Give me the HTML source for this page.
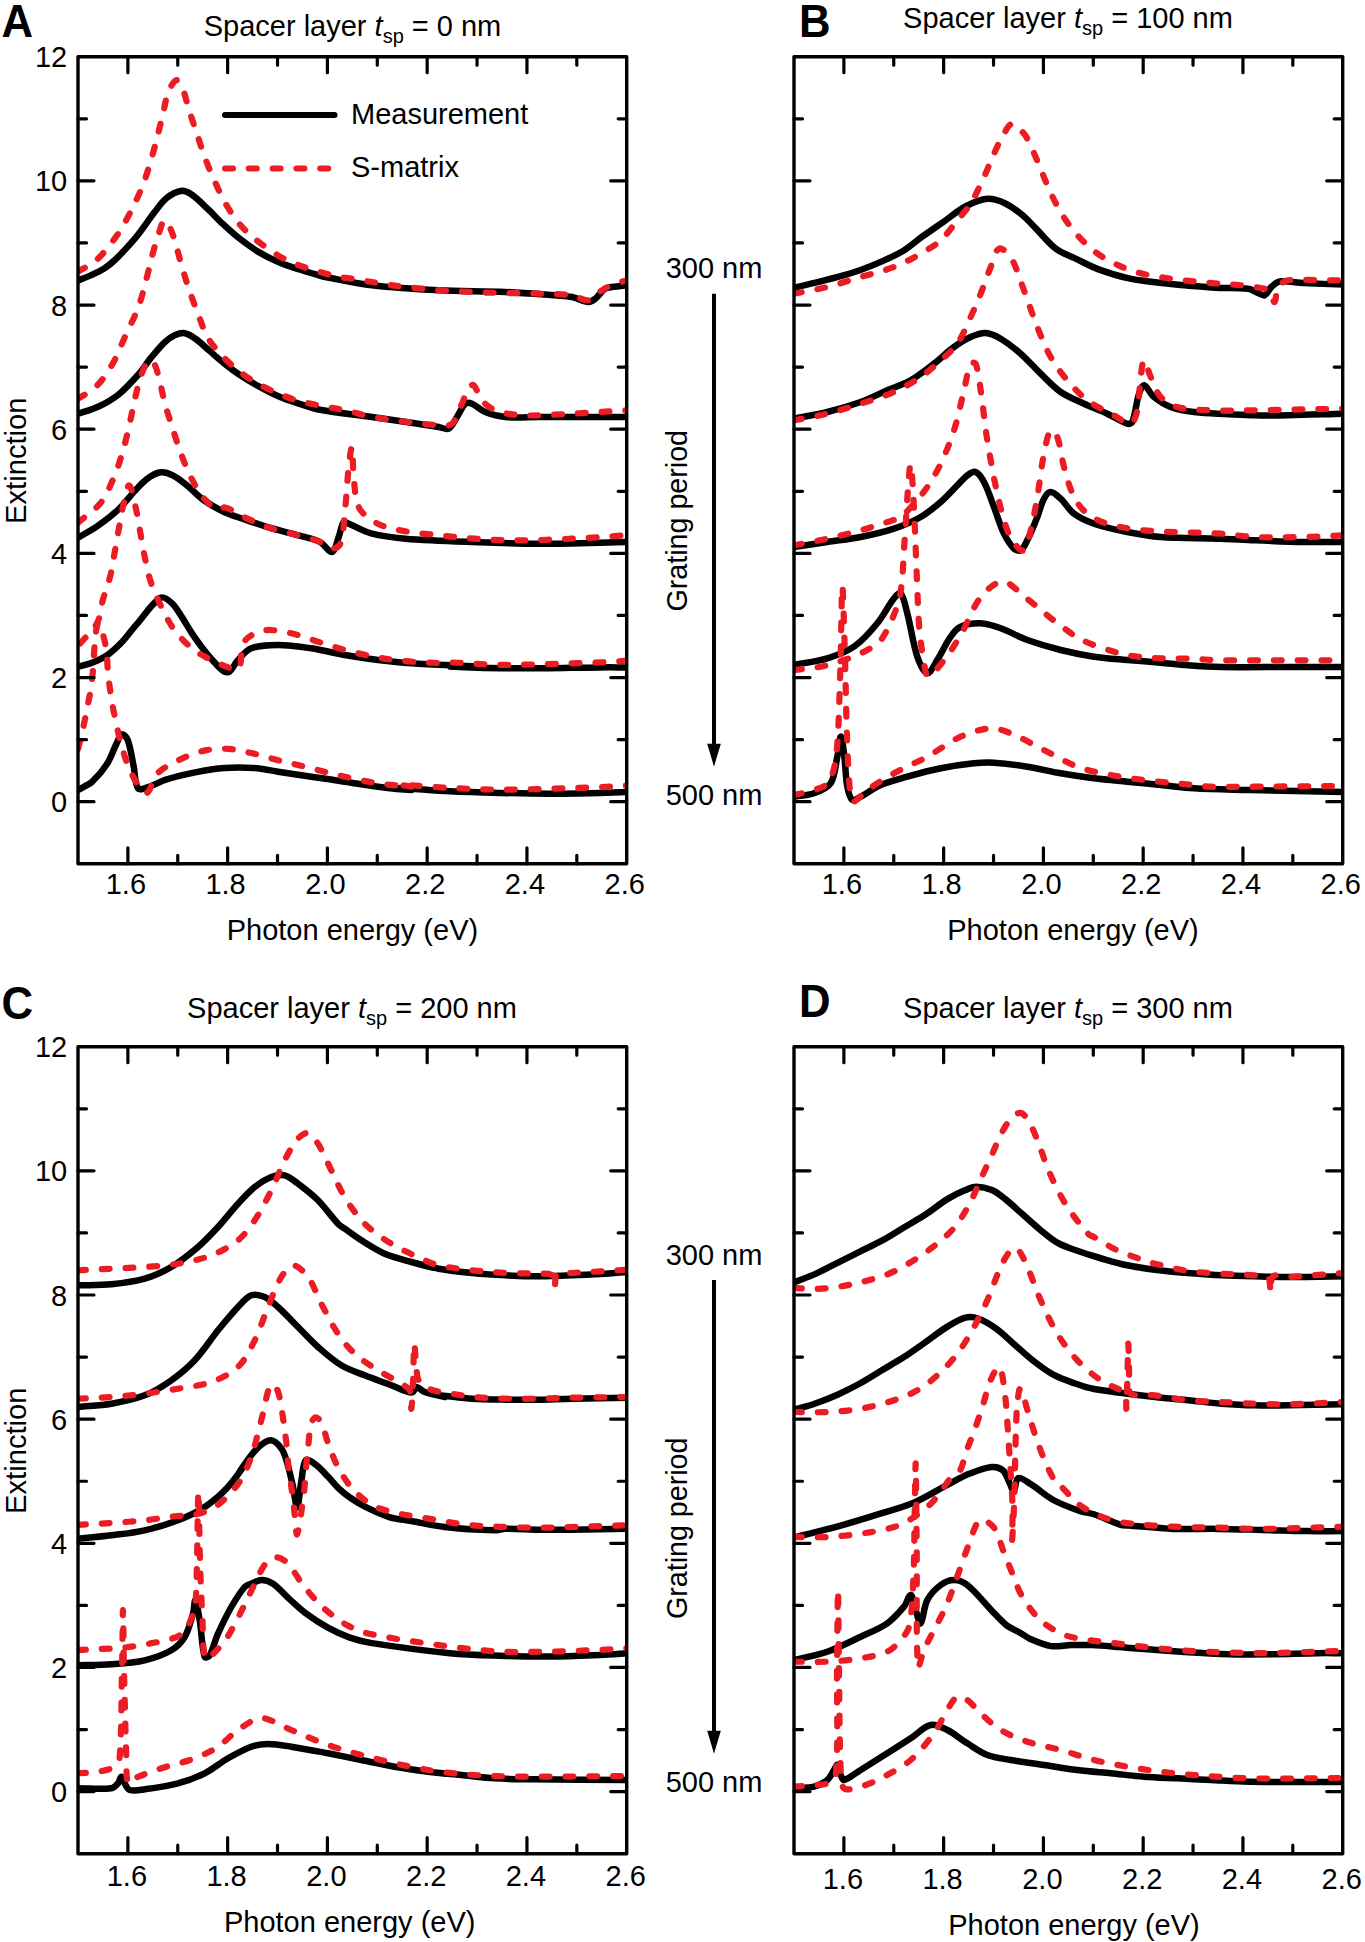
<!DOCTYPE html>
<html><head><meta charset="utf-8"><style>
html,body{margin:0;padding:0;background:#fff;}
svg{display:block;font-family:"Liberation Sans", sans-serif;}
</style></head><body>
<svg width="1365" height="1942" viewBox="0 0 1365 1942">
<rect width="1365" height="1942" fill="#fff"/>
<clipPath id="clipA"><rect x="78.0" y="56.7" width="548.7" height="807.0999999999999"/></clipPath>
<g clip-path="url(#clipA)">
<path d="M78.0,280.6 C82.0,278.9 86.1,277.4 90.1,275.6 C94.9,273.4 99.8,271.3 104.2,268.5 C107.8,266.3 111.1,263.4 114.3,260.5 C117.8,257.3 121.1,253.9 124.3,250.4 C129.2,245.2 134.0,239.9 138.4,234.3 C144.1,227.1 149.0,219.3 154.6,212.1 C158.4,207.2 161.9,201.8 166.6,198.0 C170.7,194.8 175.9,191.8 180.7,191.0 C184.0,190.4 187.9,192.1 190.8,194.0 C196.7,197.8 201.7,203.2 206.9,208.1 C212.5,213.3 217.5,219.0 223.1,224.2 C228.3,229.1 233.5,233.9 239.2,238.3 C245.6,243.3 252.3,248.2 259.3,252.4 C265.7,256.3 272.6,259.6 279.5,262.5 C286.0,265.3 292.8,267.3 299.6,269.5 C306.3,271.7 313.0,273.6 319.8,275.6 C321.6,276.1 323.4,276.6 325.3,277.0 C340.9,279.9 356.3,283.5 372.0,285.3 C394.1,287.9 416.4,289.2 438.7,290.3 C460.9,291.4 483.1,291.0 505.3,292.0 C522.0,292.7 538.7,294.1 555.3,295.3 C560.9,295.8 566.6,295.9 572.0,297.0 C577.7,298.1 583.2,301.6 588.7,302.0 C591.0,302.2 593.4,300.2 595.3,298.7 C599.0,295.8 601.4,290.8 605.3,288.7 C609.1,286.7 614.2,287.0 618.7,286.3 C621.4,285.9 624.2,285.7 627.0,285.3" fill="none" stroke="#000" stroke-width="6.5" stroke-linejoin="round" stroke-linecap="round"/>
<path d="M78.0,413.8 C84.7,411.5 91.8,409.8 98.1,406.8 C105.2,403.4 112.2,399.5 118.3,394.7 C125.7,388.8 132.1,381.6 138.4,374.5 C142.9,369.5 146.3,363.6 150.5,358.4 C155.0,352.9 159.5,347.2 164.6,342.3 C167.6,339.5 171.0,336.9 174.7,335.3 C177.8,333.9 181.6,332.8 184.8,333.2 C188.3,333.8 191.8,336.1 194.8,338.3 C199.9,341.8 204.3,346.3 209.0,350.4 C213.7,354.4 218.2,358.6 223.1,362.5 C228.3,366.6 233.6,370.8 239.2,374.5 C245.7,378.9 252.5,382.9 259.3,386.6 C265.9,390.2 272.6,393.8 279.5,396.7 C286.0,399.5 292.8,401.6 299.6,403.8 C306.3,405.9 312.9,408.5 319.8,409.8 C337.0,413.0 354.6,414.5 372.0,417.0 C394.2,420.2 416.5,423.6 438.7,427.0 C442.0,427.5 446.1,430.0 448.7,428.7 C452.2,426.7 454.4,421.0 457.0,417.0 C459.9,412.6 461.8,406.8 465.3,403.7 C466.8,402.3 470.0,402.8 472.0,403.7 C476.7,405.6 480.5,410.1 485.3,412.0 C491.6,414.5 498.5,416.4 505.3,417.0 C516.3,418.0 527.6,417.0 538.7,417.0 C568.1,417.0 597.6,417.0 627.0,417.0" fill="none" stroke="#000" stroke-width="6.5" stroke-linejoin="round" stroke-linecap="round"/>
<path d="M78.0,537.7 C84.7,533.7 91.7,530.1 98.1,525.6 C105.2,520.7 112.1,515.4 118.3,509.5 C124.2,504.0 128.9,497.3 134.4,491.4 C138.3,487.2 142.0,482.6 146.5,479.3 C150.7,476.2 155.7,473.0 160.6,472.3 C164.5,471.7 169.0,473.4 172.7,475.3 C177.8,477.8 182.3,481.7 186.8,485.3 C192.4,489.8 197.1,495.3 202.9,499.5 C209.2,504.0 216.0,508.2 223.1,511.5 C230.1,514.9 237.8,517.0 245.2,519.6 C253.2,522.4 261.3,525.2 269.4,527.7 C279.4,530.6 289.6,532.9 299.6,535.7 C306.4,537.6 313.6,538.7 319.8,541.8 C324.4,544.1 328.9,552.8 332.0,552.0 C335.2,551.2 336.7,542.1 338.7,537.0 C340.6,532.1 341.2,525.3 343.7,522.0 C344.5,520.9 347.0,523.0 348.7,523.7 C356.5,526.9 363.9,531.5 372.0,533.7 C382.8,536.5 394.1,537.7 405.3,538.7 C427.5,540.5 449.8,541.2 472.0,542.0 C494.2,542.8 516.4,543.7 538.7,543.7 C568.1,543.7 597.6,542.6 627.0,542.0" fill="none" stroke="#000" stroke-width="6.5" stroke-linejoin="round" stroke-linecap="round"/>
<path d="M78.0,666.9 C82.9,665.4 87.9,664.4 92.7,662.5 C97.7,660.5 102.9,658.3 107.3,655.2 C112.6,651.4 117.4,646.7 122.0,642.0 C127.2,636.5 131.6,630.1 136.6,624.4 C144.4,615.5 151.8,603.2 160.5,597.9 C163.5,596.1 168.8,600.4 171.8,603.1 C176.0,606.9 178.8,612.5 182.1,617.4 C185.6,622.8 188.7,628.5 192.3,633.8 C195.6,638.7 199.0,643.5 202.6,648.2 C205.8,652.4 209.2,656.6 212.8,660.5 C216.1,664.1 219.3,668.1 223.1,670.8 C224.7,671.9 227.7,672.9 229.2,671.8 C232.7,669.3 234.7,663.5 238.0,660.0 C242.0,655.7 246.0,650.3 251.3,648.3 C259.4,645.3 269.1,645.0 278.0,645.0 C289.1,645.0 300.3,646.7 311.3,648.3 C322.5,650.0 333.5,653.0 344.7,655.0 C355.7,656.9 366.9,658.6 378.0,660.0 C389.1,661.4 400.2,662.6 411.3,663.3 C433.5,664.8 469.0,665.9 478.0,666.7 C481.8,667.0 447.3,666.3 449.9,666.5 C454.5,666.8 483.1,667.9 499.8,668.2 C516.4,668.5 533.0,668.3 549.7,668.2 C566.3,668.0 582.9,667.5 599.6,667.4 C608.7,667.3 617.9,667.4 627.0,667.4" fill="none" stroke="#000" stroke-width="6.5" stroke-linejoin="round" stroke-linecap="round"/>
<path d="M78.0,790.0 C82.9,787.0 88.5,784.9 92.7,781.2 C98.2,776.1 103.2,770.0 107.3,763.6 C111.0,757.8 113.0,750.8 116.1,744.5 C117.9,741.0 119.7,735.1 122.0,734.3 C123.6,733.7 126.9,737.6 127.8,740.1 C130.8,748.4 131.8,757.7 133.7,766.5 C135.2,773.8 134.7,783.8 138.1,788.5 C139.6,790.7 145.1,788.1 148.3,787.0 C154.3,785.1 159.9,781.6 165.9,779.7 C175.5,776.7 185.4,774.4 195.2,772.4 C204.9,770.4 214.7,768.7 224.5,768.0 C234.2,767.3 244.1,767.3 253.8,768.0 C261.9,768.5 269.9,770.4 278.0,771.7 C289.1,773.3 300.2,775.0 311.3,776.7 C322.4,778.3 333.6,780.0 344.7,781.7 C355.8,783.3 366.9,785.3 378.0,786.7 C389.1,788.1 405.9,789.7 411.3,790.0 C413.2,790.1 397.6,787.8 400.0,787.9 C410.4,788.3 433.2,790.4 449.9,791.3 C466.5,792.1 483.1,792.5 499.8,792.9 C516.4,793.3 533.0,793.7 549.7,793.7 C566.3,793.7 582.9,793.3 599.6,792.9 C608.7,792.7 617.9,792.4 627.0,792.1" fill="none" stroke="#000" stroke-width="6.5" stroke-linejoin="round" stroke-linecap="round"/>
<path d="M78.0,271.6 C84.0,267.9 91.0,265.2 96.1,260.5 C103.7,253.5 110.2,244.8 116.3,236.3 C121.7,228.7 126.1,220.4 130.4,212.1 C134.8,203.6 138.9,194.9 142.5,185.9 C145.6,178.1 148.1,169.9 150.5,161.8 C152.8,154.4 154.6,147.0 156.6,139.6 C158.7,131.6 160.6,123.5 162.6,115.4 C164.6,107.4 165.6,98.8 168.7,91.2 C170.3,87.1 174.1,80.5 176.7,80.2 C178.8,79.9 181.4,85.9 182.8,89.2 C185.4,95.6 186.7,102.7 188.8,109.4 C191.4,117.5 194.2,125.5 196.9,133.6 C199.6,141.6 201.9,149.8 204.9,157.7 C208.0,165.9 211.4,174.0 215.0,181.9 C218.7,190.1 222.4,198.4 227.1,206.1 C231.8,213.9 236.9,221.7 243.2,228.2 C250.4,235.8 258.9,242.3 267.4,248.4 C274.3,253.4 281.8,257.8 289.5,261.5 C296.6,264.9 304.2,267.2 311.7,269.5 C320.3,272.2 329.1,274.6 337.9,276.6 C342.5,277.6 347.3,277.9 352.0,278.7 C369.8,281.4 387.5,285.0 405.3,287.0 C427.5,289.5 449.8,290.9 472.0,292.0 C494.2,293.1 516.5,292.9 538.7,293.7 C549.8,294.0 561.0,293.9 572.0,295.3 C577.7,296.1 583.6,301.2 588.7,300.3 C593.6,299.5 597.3,293.3 602.0,290.3 C606.2,287.7 610.7,285.5 615.3,283.7 C619.1,282.2 623.1,281.4 627.0,280.3" fill="none" stroke="#EC1C24" stroke-width="6.2" stroke-dasharray="7.8 16" stroke-linecap="round"/>
<path d="M78.0,398.7 C84.0,394.7 91.1,391.7 96.1,386.6 C102.5,380.3 107.7,372.3 112.2,364.5 C117.1,356.2 120.4,347.0 124.3,338.3 C129.1,327.8 134.4,317.6 138.4,306.8 C141.8,297.7 144.0,288.1 146.5,278.6 C148.7,270.6 150.4,262.4 152.5,254.4 C154.4,247.7 156.3,240.9 158.6,234.3 C160.3,229.5 162.3,220.2 164.6,220.2 C167.0,220.2 170.8,229.3 172.7,234.3 C176.1,243.4 178.0,253.1 180.7,262.5 C183.3,271.3 185.9,280.0 188.8,288.7 C191.9,297.9 195.4,307.0 198.9,316.1 C201.5,322.9 203.5,330.0 206.9,336.3 C210.2,342.1 214.7,347.3 219.0,352.4 C222.7,356.7 226.8,360.7 231.1,364.5 C236.9,369.5 242.9,374.3 249.2,378.6 C255.0,382.4 261.1,385.7 267.4,388.6 C275.2,392.4 283.3,396.0 291.6,398.7 C299.4,401.3 307.6,403.0 315.7,404.8 C326.4,407.1 337.3,408.5 348.0,410.8 C356.0,412.6 363.8,415.7 372.0,417.0 C394.1,420.5 416.4,423.5 438.7,425.3 C443.1,425.7 449.1,426.4 452.0,423.7 C456.9,419.2 458.9,410.4 462.0,403.7 C464.5,398.2 465.7,391.7 468.7,387.0 C469.5,385.6 472.6,384.3 473.7,385.3 C477.1,388.7 478.3,396.1 482.0,400.3 C485.6,404.4 490.3,408.4 495.3,410.3 C503.6,413.4 513.0,414.9 522.0,415.3 C538.6,416.1 555.3,414.5 572.0,413.7 C590.3,412.8 608.7,411.4 627.0,410.3" fill="none" stroke="#EC1C24" stroke-width="6.2" stroke-dasharray="7.8 16" stroke-linecap="round"/>
<path d="M78.0,522.6 C85.4,516.2 94.0,510.9 100.2,503.5 C105.4,497.1 108.9,489.0 112.2,481.3 C116.3,472.2 119.4,462.7 122.3,453.1 C125.1,443.9 127.2,434.3 129.4,424.9 C131.5,415.5 133.2,406.0 135.4,396.7 C137.2,389.3 138.9,381.7 141.5,374.5 C143.2,369.6 145.5,363.4 148.5,360.4 C149.5,359.4 152.6,361.0 153.5,362.5 C156.0,366.3 157.3,371.6 158.6,376.3 C161.0,384.9 162.3,393.9 164.6,402.5 C167.0,411.3 169.9,420.0 172.7,428.7 C175.3,436.8 177.8,444.9 180.7,452.9 C183.8,461.0 186.9,469.3 190.8,477.1 C194.3,484.0 198.0,491.2 202.9,497.2 C206.8,501.9 211.9,506.9 217.0,509.3 C219.3,510.3 222.5,506.8 225.1,507.5 C232.0,509.5 238.4,514.5 245.2,517.6 C253.2,521.2 261.1,524.9 269.4,527.7 C279.3,530.9 289.6,532.9 299.6,535.7 C306.4,537.6 313.3,539.2 319.8,541.8 C324.1,543.5 327.9,548.3 332.0,548.7 C334.8,548.9 339.4,546.6 340.3,543.7 C343.9,532.7 344.0,519.3 345.3,507.0 C346.8,493.7 347.2,480.3 348.7,467.0 C349.4,460.3 351.3,445.7 352.0,447.0 C353.0,449.0 352.6,467.1 353.7,477.0 C354.8,487.1 354.9,498.1 358.7,507.0 C361.0,512.5 366.8,517.0 372.0,520.3 C377.9,524.2 385.0,527.1 392.0,528.7 C407.2,532.1 423.0,533.7 438.7,535.3 C460.8,537.6 483.1,539.8 505.3,540.3 C527.5,540.9 549.8,539.6 572.0,538.7 C590.3,537.9 608.7,536.4 627.0,535.3" fill="none" stroke="#EC1C24" stroke-width="6.2" stroke-dasharray="7.8 16" stroke-linecap="round"/>
<path d="M80.2,643.4 C85.8,636.7 93.1,630.8 97.0,623.2 C100.7,616.2 100.7,607.5 102.9,599.7 C105.1,591.8 108.3,584.2 110.2,576.3 C112.2,568.6 113.2,560.6 114.6,552.8 C116.1,544.5 117.5,536.2 119.0,527.9 C120.4,520.1 121.6,512.2 123.4,504.5 C125.0,498.0 127.4,484.4 129.3,485.4 C131.8,486.8 134.6,502.9 136.6,511.8 C138.5,520.0 139.5,528.4 141.0,536.7 C142.4,544.5 143.7,552.4 145.4,560.1 C147.1,568.0 148.7,576.0 151.3,583.6 C154.0,591.6 157.7,599.4 161.5,607.0 C165.5,615.0 169.3,623.4 174.7,630.5 C180.5,638.0 187.6,645.1 195.2,650.8 C202.7,656.3 211.7,659.9 220.1,664.0 C223.9,665.8 227.8,667.4 231.8,668.4 C234.2,668.9 238.2,670.1 239.2,668.4 C241.6,663.8 240.6,655.5 242.1,649.3 C243.0,645.7 243.8,641.3 246.5,639.0 C251.2,635.0 257.8,631.1 264.1,630.3 C272.8,629.1 282.4,631.4 291.3,633.3 C300.4,635.3 309.1,638.9 318.0,641.7 C329.1,645.1 340.1,649.0 351.3,651.7 C365.6,655.1 380.1,658.2 394.7,660.0 C411.2,662.1 428.0,662.6 444.7,663.3 C446.4,663.4 448.1,662.3 449.9,662.4 C466.5,662.8 483.1,664.6 499.8,664.9 C516.4,665.1 533.0,664.4 549.7,664.0 C566.3,663.6 582.9,663.1 599.6,662.4 C608.7,662.0 617.9,661.3 627.0,660.7" fill="none" stroke="#EC1C24" stroke-width="6.2" stroke-dasharray="7.8 16" stroke-linecap="round"/>
<path d="M78.0,748.9 C79.5,743.1 81.1,737.2 82.4,731.4 C84.2,723.1 85.9,714.8 87.5,706.4 C89.1,698.2 91.0,689.9 91.9,681.5 C93.7,666.0 93.8,650.2 95.6,634.7 C96.0,630.7 97.4,621.6 98.5,622.9 C100.8,625.5 104.3,638.4 105.8,646.4 C107.5,655.0 107.1,664.0 108.0,672.7 C108.8,680.6 109.8,688.4 111.0,696.2 C112.2,704.0 113.7,711.9 115.4,719.6 C116.9,727.0 118.5,734.4 120.5,741.6 C122.7,749.5 124.8,757.5 127.8,765.1 C130.2,771.1 133.0,777.3 136.6,782.6 C139.3,786.6 144.1,794.1 146.9,792.9 C151.0,791.1 152.2,778.8 157.1,773.8 C163.4,767.5 172.3,763.2 180.6,759.2 C188.4,755.4 196.9,752.2 205.5,750.4 C213.1,748.8 221.2,748.5 228.9,748.9 C236.8,749.4 244.6,751.6 252.4,753.3 C259.7,755.0 267.0,757.3 274.3,759.2 C286.6,762.3 299.0,765.3 311.3,768.3 C322.4,771.1 333.5,774.2 344.7,776.7 C355.7,779.2 366.8,781.7 378.0,783.3 C389.0,785.0 405.9,786.4 411.3,786.7 C413.2,786.8 397.6,784.5 400.0,784.6 C410.4,784.9 433.2,787.1 449.9,787.9 C466.5,788.8 483.1,789.5 499.8,789.6 C516.4,789.7 533.0,789.2 549.7,788.8 C566.3,788.3 582.9,787.8 599.6,787.1 C608.7,786.7 617.9,786.0 627.0,785.4" fill="none" stroke="#EC1C24" stroke-width="6.2" stroke-dasharray="7.8 16" stroke-linecap="round"/>
</g>
<rect x="78.0" y="56.7" width="548.7" height="807.0999999999999" fill="none" stroke="#000" stroke-width="3.4" stroke-linejoin="round"/>
<path d="M127.88,56.7 v16 M127.88,863.8 v-16 M177.76,56.7 v8.5 M177.76,863.8 v-8.5 M227.65,56.7 v16 M227.65,863.8 v-16 M277.53,56.7 v8.5 M277.53,863.8 v-8.5 M327.41,56.7 v16 M327.41,863.8 v-16 M377.29,56.7 v8.5 M377.29,863.8 v-8.5 M427.17,56.7 v16 M427.17,863.8 v-16 M477.05,56.7 v8.5 M477.05,863.8 v-8.5 M526.94,56.7 v16 M526.94,863.8 v-16 M576.82,56.7 v8.5 M576.82,863.8 v-8.5 M78.0,801.72 h16 M626.7,801.72 h-16 M78.0,739.63 h8.5 M626.7,739.63 h-8.5 M78.0,677.55 h16 M626.7,677.55 h-16 M78.0,615.46 h8.5 M626.7,615.46 h-8.5 M78.0,553.38 h16 M626.7,553.38 h-16 M78.0,491.29 h8.5 M626.7,491.29 h-8.5 M78.0,429.21 h16 M626.7,429.21 h-16 M78.0,367.12 h8.5 M626.7,367.12 h-8.5 M78.0,305.04 h16 M626.7,305.04 h-16 M78.0,242.95 h8.5 M626.7,242.95 h-8.5 M78.0,180.87 h16 M626.7,180.87 h-16 M78.0,118.78 h8.5 M626.7,118.78 h-8.5" stroke="#000" stroke-width="3.2" stroke-linecap="round" fill="none"/>
<text x="125.9" y="894.4" text-anchor="middle" font-size="29">1.6</text>
<text x="225.6" y="894.4" text-anchor="middle" font-size="29">1.8</text>
<text x="325.4" y="894.4" text-anchor="middle" font-size="29">2.0</text>
<text x="425.2" y="894.4" text-anchor="middle" font-size="29">2.2</text>
<text x="524.9" y="894.4" text-anchor="middle" font-size="29">2.4</text>
<text x="624.7" y="894.4" text-anchor="middle" font-size="29">2.6</text>
<text x="352.4" y="939.8" text-anchor="middle" font-size="29">Photon energy (eV)</text>
<text x="67.2" y="812.2" text-anchor="end" font-size="29">0</text>
<text x="67.2" y="688.0" text-anchor="end" font-size="29">2</text>
<text x="67.2" y="563.9" text-anchor="end" font-size="29">4</text>
<text x="67.2" y="439.7" text-anchor="end" font-size="29">6</text>
<text x="67.2" y="315.5" text-anchor="end" font-size="29">8</text>
<text x="67.2" y="191.4" text-anchor="end" font-size="29">10</text>
<text x="67.2" y="67.2" text-anchor="end" font-size="29">12</text>
<text transform="translate(26,460.7) rotate(-90)" text-anchor="middle" font-size="29" textLength="126.5" lengthAdjust="spacingAndGlyphs">Extinction</text>
<clipPath id="clipB"><rect x="794.0" y="56.7" width="548.7" height="807.0999999999999"/></clipPath>
<g clip-path="url(#clipB)">
<path d="M794.0,287.8 C808.7,284.1 823.4,280.7 838.0,276.8 C845.4,274.8 852.7,272.7 859.9,270.2 C867.3,267.6 874.7,264.6 881.9,261.4 C889.4,258.0 896.9,254.7 903.9,250.4 C910.1,246.6 915.6,241.5 921.5,237.2 C928.8,232.0 936.2,226.9 943.5,221.8 C950.8,216.7 957.6,210.6 965.4,206.5 C972.2,202.9 980.0,199.4 987.4,198.8 C993.2,198.3 999.6,200.7 1005.0,203.2 C1011.3,206.2 1017.1,210.7 1022.6,215.2 C1027.4,219.1 1031.4,224.0 1035.8,228.4 C1042.6,235.2 1048.5,243.2 1056.1,248.9 C1062.1,253.4 1069.7,255.8 1076.6,259.1 C1083.9,262.6 1091.0,266.6 1098.6,269.4 C1108.1,272.9 1118.0,276.0 1127.9,278.2 C1137.5,280.4 1147.4,281.4 1157.2,282.6 C1166.9,283.8 1176.7,284.6 1186.5,285.5 C1196.3,286.3 1206.0,287.2 1215.8,287.7 C1226.5,288.3 1237.5,287.3 1248.0,288.7 C1251.6,289.1 1254.6,291.7 1258.0,293.0 C1260.2,293.9 1262.9,296.1 1264.7,295.3 C1267.3,294.1 1268.7,289.4 1271.3,287.0 C1273.8,284.8 1276.6,281.9 1279.8,281.5 C1287.4,280.6 1295.7,282.7 1303.6,283.1 C1316.7,283.7 1329.9,284.1 1343.0,284.6" fill="none" stroke="#000" stroke-width="6.5" stroke-linejoin="round" stroke-linecap="round"/>
<path d="M794.0,418.7 C805.1,416.4 816.4,414.7 827.3,412.0 C838.6,409.2 849.8,405.9 860.7,402.0 C869.8,398.7 878.4,394.2 887.3,390.3 C895.1,387.0 903.4,384.5 910.7,380.3 C918.9,375.6 926.4,369.5 934.0,363.7 C940.9,358.4 947.0,352.1 954.0,347.0 C959.2,343.2 964.8,339.6 970.7,337.0 C975.4,334.9 980.7,332.7 985.7,333.0 C990.7,333.3 996.1,336.0 1000.7,338.7 C1007.8,342.9 1014.4,348.2 1020.7,353.7 C1027.7,359.9 1033.9,367.1 1040.7,373.7 C1047.2,379.9 1053.3,386.9 1060.7,392.0 C1067.7,396.9 1076.1,400.0 1084.0,403.7 C1091.7,407.2 1099.7,410.1 1107.3,413.7 C1114.1,416.8 1120.6,421.4 1127.3,423.7 C1128.9,424.2 1131.7,423.5 1132.3,422.0 C1135.6,413.5 1136.1,402.8 1139.0,393.7 C1140.0,390.6 1142.1,384.9 1144.0,385.3 C1147.1,386.0 1150.1,393.8 1154.0,397.0 C1159.0,401.0 1164.7,404.8 1170.7,407.0 C1178.0,409.8 1186.1,411.2 1194.0,412.0 C1214.1,414.0 1234.4,414.6 1254.7,415.3 C1265.8,415.7 1276.9,415.5 1288.0,415.3 C1306.3,415.0 1324.7,414.2 1343.0,413.7" fill="none" stroke="#000" stroke-width="6.5" stroke-linejoin="round" stroke-linecap="round"/>
<path d="M794.0,547.0 C805.1,545.3 816.2,543.7 827.3,542.0 C838.4,540.3 849.7,539.2 860.7,537.0 C871.9,534.8 883.2,532.3 894.0,528.7 C903.2,525.6 912.3,521.8 920.7,517.0 C927.9,512.9 934.4,507.4 940.7,502.0 C946.6,496.9 951.8,490.9 957.3,485.3 C960.7,482.0 963.6,478.1 967.3,475.3 C969.7,473.6 973.4,471.1 975.7,472.0 C979.0,473.3 982.0,478.2 984.0,482.0 C988.1,489.9 990.8,498.6 994.0,507.0 C997.4,515.9 999.9,525.2 1004.0,533.7 C1006.6,539.1 1010.0,544.6 1014.0,548.7 C1015.5,550.2 1019.0,551.3 1020.7,550.3 C1023.5,548.6 1025.5,543.9 1027.3,540.3 C1031.1,532.8 1034.2,524.9 1037.3,517.0 C1039.7,511.0 1041.0,504.3 1044.0,498.7 C1045.4,496.0 1048.2,492.0 1050.7,492.0 C1053.8,492.0 1057.8,496.0 1060.7,498.7 C1065.5,503.2 1068.7,509.7 1074.0,513.7 C1079.9,518.1 1087.0,521.3 1094.0,523.7 C1104.8,527.4 1116.1,529.8 1127.3,532.0 C1138.3,534.2 1149.5,536.2 1160.7,537.0 C1180.8,538.4 1201.1,537.9 1221.3,538.7 C1232.5,539.1 1243.6,539.9 1254.7,540.3 C1271.3,541.0 1288.0,541.7 1304.7,542.0 C1317.4,542.2 1330.2,542.0 1343.0,542.0" fill="none" stroke="#000" stroke-width="6.5" stroke-linejoin="round" stroke-linecap="round"/>
<path d="M794.0,665.0 C805.1,662.8 816.6,661.6 827.3,658.3 C836.6,655.5 846.2,652.1 854.0,646.7 C862.9,640.5 870.4,631.8 877.3,623.3 C883.7,615.7 887.9,606.2 894.0,598.3 C895.7,596.2 899.4,591.9 900.7,593.3 C903.9,596.9 905.5,606.5 907.3,613.3 C911.1,627.7 912.7,642.7 917.3,656.7 C919.4,662.7 923.7,672.7 927.3,673.3 C930.4,673.8 934.4,664.7 937.3,660.0 C942.1,652.5 945.6,643.9 950.7,636.7 C953.3,632.8 956.6,628.5 960.7,626.7 C966.6,624.0 974.1,623.1 980.7,623.3 C987.4,623.6 994.2,626.0 1000.7,628.3 C1009.8,631.6 1018.2,636.7 1027.3,640.0 C1038.2,643.9 1049.4,647.2 1060.7,650.0 C1071.6,652.7 1082.8,655.0 1094.0,656.7 C1105.0,658.3 1116.2,659.0 1127.3,660.0 C1138.4,661.0 1149.6,661.7 1160.7,662.7 C1169.8,663.5 1178.9,664.7 1188.0,665.3 C1199.1,666.1 1210.2,666.8 1221.3,667.0 C1243.5,667.4 1265.8,667.0 1288.0,667.0 C1306.3,667.0 1324.7,667.0 1343.0,667.0" fill="none" stroke="#000" stroke-width="6.5" stroke-linejoin="round" stroke-linecap="round"/>
<path d="M794.0,796.7 C800.7,795.6 807.8,795.6 814.0,793.3 C820.0,791.2 827.4,788.4 830.7,783.3 C835.2,776.2 835.4,765.6 837.3,756.7 C838.7,750.1 839.5,737.3 840.7,736.7 C841.7,736.2 843.3,747.7 844.0,753.3 C845.5,764.4 845.4,775.8 847.3,786.7 C848.2,791.3 849.6,798.0 852.3,800.0 C854.1,801.3 858.0,798.1 860.7,796.7 C867.5,793.1 873.6,788.0 880.7,785.0 C889.2,781.4 898.4,779.2 907.3,776.7 C918.4,773.6 929.4,770.6 940.7,768.3 C951.7,766.1 962.8,764.5 974.0,763.3 C980.6,762.6 987.4,762.3 994.0,762.7 C1005.1,763.4 1016.3,764.9 1027.3,766.7 C1038.5,768.5 1049.5,771.4 1060.7,773.3 C1071.7,775.3 1082.9,776.9 1094.0,778.3 C1105.1,779.7 1116.2,780.6 1127.3,781.7 C1138.4,782.8 1149.6,783.9 1160.7,785.0 C1171.8,786.1 1182.9,787.7 1194.0,788.3 C1212.3,789.4 1230.7,789.5 1249.0,790.0 C1280.3,790.8 1311.7,791.3 1343.0,792.0" fill="none" stroke="#000" stroke-width="6.5" stroke-linejoin="round" stroke-linecap="round"/>
<path d="M794.0,293.7 C805.1,291.4 816.4,289.7 827.3,287.0 C838.6,284.2 849.6,280.3 860.7,277.0 C871.8,273.7 883.2,271.2 894.0,267.0 C903.2,263.4 912.1,258.6 920.7,253.7 C927.6,249.7 934.8,245.7 940.7,240.3 C947.0,234.6 951.8,227.0 957.3,220.3 C961.8,214.8 967.0,209.7 970.7,203.7 C975.8,195.2 979.8,186.0 984.0,177.0 C987.6,169.3 990.5,161.3 994.0,153.7 C997.1,146.9 1000.1,140.0 1004.0,133.7 C1006.2,130.0 1009.3,123.7 1012.3,123.7 C1015.9,123.7 1020.7,129.9 1024.0,133.7 C1026.3,136.2 1027.7,139.6 1029.2,142.7 C1032.4,149.2 1035.2,155.9 1038.0,162.5 C1041.7,171.3 1045.0,180.2 1048.9,188.9 C1052.3,196.3 1055.7,203.8 1059.9,210.8 C1064.5,218.5 1069.4,226.1 1075.3,232.8 C1081.8,240.3 1089.1,247.4 1097.1,253.3 C1104.2,258.6 1112.5,262.7 1120.6,266.4 C1127.6,269.6 1135.1,271.9 1142.6,273.8 C1150.8,275.9 1159.2,276.9 1167.5,278.2 C1175.3,279.4 1183.1,280.3 1190.9,281.1 C1198.7,282.0 1206.6,282.7 1214.4,283.3 C1221.7,283.9 1229.0,284.1 1236.3,284.8 C1242.4,285.4 1248.6,285.9 1254.7,287.0 C1259.2,287.8 1264.6,287.8 1268.0,290.3 C1271.3,292.8 1273.1,302.5 1274.7,302.0 C1276.4,301.4 1275.5,291.1 1278.0,287.0 C1280.0,283.8 1284.2,280.9 1288.0,280.3 C1298.6,278.7 1310.2,280.3 1321.3,280.3 C1328.6,280.3 1335.8,280.3 1343.0,280.3" fill="none" stroke="#EC1C24" stroke-width="6.2" stroke-dasharray="7.8 16" stroke-linecap="round"/>
<path d="M794.0,420.3 C805.1,418.1 816.4,416.4 827.3,413.7 C838.6,410.9 849.6,407.3 860.7,403.7 C871.9,400.0 883.3,396.8 894.0,392.0 C903.3,387.9 912.3,382.7 920.7,377.0 C927.8,372.1 934.3,366.2 940.7,360.3 C946.5,355.1 952.9,350.0 957.3,343.7 C962.9,335.6 966.5,326.0 970.7,317.0 C974.2,309.3 977.5,301.5 980.7,293.7 C984.2,284.9 987.1,275.8 990.7,267.0 C993.2,260.8 995.1,250.6 999.0,248.7 C1001.8,247.3 1008.3,253.0 1010.7,257.0 C1016.6,266.9 1019.7,279.2 1024.0,290.3 C1028.6,302.5 1032.5,314.9 1037.3,327.0 C1041.4,337.2 1045.3,347.5 1050.7,357.0 C1055.3,365.3 1061.2,373.1 1067.3,380.3 C1073.4,387.5 1079.9,394.7 1087.3,400.3 C1095.4,406.4 1105.0,410.5 1114.0,415.3 C1119.5,418.3 1126.3,424.6 1130.7,423.7 C1134.1,422.9 1136.3,415.1 1137.3,410.3 C1139.6,399.6 1139.2,388.1 1140.7,377.0 C1141.4,371.4 1142.4,360.3 1144.0,360.3 C1145.7,360.3 1148.2,371.6 1150.7,377.0 C1153.7,383.8 1155.9,391.7 1160.7,397.0 C1164.8,401.7 1171.2,405.4 1177.3,407.0 C1187.9,409.8 1199.5,409.9 1210.7,410.3 C1225.3,411.0 1240.0,410.5 1254.7,410.3 C1265.8,410.2 1276.9,409.9 1288.0,409.7 C1306.3,409.3 1324.7,409.0 1343.0,408.7" fill="none" stroke="#EC1C24" stroke-width="6.2" stroke-dasharray="7.8 16" stroke-linecap="round"/>
<path d="M794.0,545.3 C805.1,543.1 816.3,541.2 827.3,538.7 C838.5,536.2 849.6,533.4 860.7,530.3 C869.6,527.8 878.5,524.9 887.3,522.0 C891.8,520.5 896.8,519.6 900.7,517.0 C905.7,513.5 909.8,508.4 914.0,503.7 C918.7,498.4 923.4,492.9 927.3,487.0 C932.3,479.6 936.9,471.8 940.7,463.7 C945.8,452.9 950.4,441.7 954.0,430.3 C958.2,417.3 960.7,403.7 964.0,390.3 C966.2,381.4 967.4,371.2 970.7,363.7 C971.3,362.3 975.1,362.3 975.7,363.7 C978.5,371.2 979.3,381.4 980.7,390.3 C983.2,407.0 984.7,423.7 987.3,440.3 C990.2,458.2 993.4,476.0 997.3,493.7 C1000.1,506.0 1002.9,518.6 1007.3,530.3 C1009.6,536.3 1013.3,542.2 1017.3,547.0 C1018.9,548.8 1022.8,551.8 1024.0,550.3 C1027.3,546.2 1029.0,537.1 1030.7,530.3 C1033.4,519.4 1035.4,508.2 1037.3,497.0 C1039.8,482.6 1041.1,468.0 1044.0,453.7 C1045.6,445.7 1047.5,434.3 1050.7,430.3 C1051.9,428.8 1056.3,434.1 1057.3,437.0 C1060.7,446.4 1061.3,457.1 1064.0,467.0 C1066.8,477.1 1069.4,487.7 1074.0,497.0 C1077.1,503.3 1081.9,509.3 1087.3,513.7 C1093.0,518.2 1100.2,521.6 1107.3,523.7 C1119.1,527.1 1131.7,529.3 1144.0,530.3 C1169.7,532.6 1195.6,532.1 1221.3,533.7 C1232.5,534.3 1243.5,536.6 1254.7,537.0 C1271.3,537.7 1288.0,537.3 1304.7,537.0 C1317.5,536.8 1330.2,535.9 1343.0,535.3" fill="none" stroke="#EC1C24" stroke-width="6.2" stroke-dasharray="7.8 16" stroke-linecap="round"/>
<path d="M794.0,670.0 C802.9,668.9 811.9,668.4 820.7,666.7 C828.6,665.1 836.4,662.7 844.0,660.0 C852.0,657.2 860.0,654.1 867.3,650.0 C872.6,647.0 878.6,643.7 881.9,638.8 C888.5,629.0 893.2,617.1 897.3,605.8 C899.8,598.8 900.8,591.2 901.7,583.8 C903.0,572.9 903.2,561.9 903.9,550.9 C904.6,539.9 905.4,528.9 906.1,517.9 C906.8,506.9 907.4,495.9 908.3,484.9 C908.9,478.1 909.8,464.5 910.5,464.5 C911.2,464.5 912.2,478.1 912.7,484.9 C913.7,499.5 914.2,514.2 914.9,528.9 C915.7,547.2 916.3,565.5 917.1,583.8 C917.8,598.5 918.0,613.2 919.3,627.8 C920.2,638.8 921.7,649.9 923.7,660.8 C924.7,666.0 925.3,676.2 928.1,676.2 C931.9,676.2 939.0,666.5 943.5,660.8 C950.0,652.5 955.7,643.5 961.0,634.4 C968.1,622.2 972.3,607.8 980.8,597.0 C986.2,590.2 995.5,581.6 1002.8,581.6 C1010.1,581.6 1017.7,591.6 1024.8,597.0 C1036.0,605.5 1046.4,615.0 1057.7,623.4 C1066.2,629.7 1074.6,636.7 1084.1,641.0 C1097.8,647.2 1112.6,651.7 1127.3,655.0 C1138.2,657.5 1149.5,657.7 1160.7,658.3 C1169.8,658.9 1178.9,658.4 1188.0,658.7 C1199.1,659.0 1210.2,660.1 1221.3,660.3 C1243.5,660.7 1265.8,660.3 1288.0,660.3 C1306.3,660.3 1324.7,660.3 1343.0,660.3" fill="none" stroke="#EC1C24" stroke-width="6.2" stroke-dasharray="7.8 16" stroke-linecap="round"/>
<path d="M794.0,795.0 C800.7,793.3 807.6,792.3 814.0,790.0 C818.7,788.4 824.6,787.1 827.3,783.3 C831.8,777.1 834.7,768.1 835.7,760.0 C838.9,733.7 839.0,706.7 840.0,680.0 C841.2,648.9 841.4,593.4 842.3,586.7 C842.9,582.3 844.0,626.7 844.7,646.7 C845.7,680.0 846.0,713.4 847.3,746.7 C848.0,763.4 848.7,780.3 850.7,796.7 C850.9,798.6 852.6,802.2 854.0,801.7 C858.1,800.0 862.5,793.4 867.3,790.0 C875.9,784.0 884.8,778.4 894.0,773.3 C904.8,767.3 916.5,762.6 927.3,756.7 C938.7,750.4 948.9,741.9 960.7,736.7 C970.1,732.5 980.6,729.0 990.7,728.3 C997.3,727.9 1004.3,730.8 1010.7,733.3 C1022.1,738.0 1032.9,744.4 1044.0,750.0 C1055.1,755.6 1065.8,762.3 1077.3,766.7 C1088.0,770.7 1099.4,772.8 1110.7,775.0 C1121.7,777.2 1132.9,778.6 1144.0,780.0 C1155.1,781.4 1166.2,782.2 1177.3,783.3 C1188.4,784.4 1199.5,786.1 1210.7,786.7 C1223.4,787.3 1236.2,786.7 1249.0,786.7 C1280.3,786.5 1311.7,786.2 1343.0,786.0" fill="none" stroke="#EC1C24" stroke-width="6.2" stroke-dasharray="7.8 16" stroke-linecap="round"/>
</g>
<rect x="794.0" y="56.7" width="548.7" height="807.0999999999999" fill="none" stroke="#000" stroke-width="3.4" stroke-linejoin="round"/>
<path d="M843.88,56.7 v16 M843.88,863.8 v-16 M893.76,56.7 v8.5 M893.76,863.8 v-8.5 M943.65,56.7 v16 M943.65,863.8 v-16 M993.53,56.7 v8.5 M993.53,863.8 v-8.5 M1043.41,56.7 v16 M1043.41,863.8 v-16 M1093.29,56.7 v8.5 M1093.29,863.8 v-8.5 M1143.17,56.7 v16 M1143.17,863.8 v-16 M1193.05,56.7 v8.5 M1193.05,863.8 v-8.5 M1242.94,56.7 v16 M1242.94,863.8 v-16 M1292.82,56.7 v8.5 M1292.82,863.8 v-8.5 M794.0,801.72 h16 M1342.7,801.72 h-16 M794.0,739.63 h8.5 M1342.7,739.63 h-8.5 M794.0,677.55 h16 M1342.7,677.55 h-16 M794.0,615.46 h8.5 M1342.7,615.46 h-8.5 M794.0,553.38 h16 M1342.7,553.38 h-16 M794.0,491.29 h8.5 M1342.7,491.29 h-8.5 M794.0,429.21 h16 M1342.7,429.21 h-16 M794.0,367.12 h8.5 M1342.7,367.12 h-8.5 M794.0,305.04 h16 M1342.7,305.04 h-16 M794.0,242.95 h8.5 M1342.7,242.95 h-8.5 M794.0,180.87 h16 M1342.7,180.87 h-16 M794.0,118.78 h8.5 M1342.7,118.78 h-8.5" stroke="#000" stroke-width="3.2" stroke-linecap="round" fill="none"/>
<text x="841.9" y="894.4" text-anchor="middle" font-size="29">1.6</text>
<text x="941.6" y="894.4" text-anchor="middle" font-size="29">1.8</text>
<text x="1041.4" y="894.4" text-anchor="middle" font-size="29">2.0</text>
<text x="1141.2" y="894.4" text-anchor="middle" font-size="29">2.2</text>
<text x="1240.9" y="894.4" text-anchor="middle" font-size="29">2.4</text>
<text x="1340.7" y="894.4" text-anchor="middle" font-size="29">2.6</text>
<text x="1073.0" y="939.8" text-anchor="middle" font-size="29">Photon energy (eV)</text>
<text x="714" y="277.7" text-anchor="middle" font-size="29">300 nm</text>
<text x="714" y="804.7" text-anchor="middle" font-size="29">500 nm</text>
<path d="M714,293.7 V746.7" stroke="#000" stroke-width="4"/>
<path d="M707.2,743.7 L720.8,743.7 L714,766.7 Z" fill="#000"/>
<text transform="translate(687,520.7) rotate(-90)" text-anchor="middle" font-size="29" textLength="181.5" lengthAdjust="spacingAndGlyphs">Grating period</text>
<clipPath id="clipC"><rect x="78.0" y="1046.7" width="548.7" height="807.0"/></clipPath>
<g clip-path="url(#clipC)">
<path d="M78.0,1285.3 C89.1,1285.0 100.3,1285.4 111.3,1284.3 C122.5,1283.2 133.9,1281.8 144.7,1278.7 C153.9,1276.0 163.0,1271.9 171.3,1267.0 C180.8,1261.4 189.6,1254.2 198.0,1247.0 C205.1,1240.9 211.6,1233.9 218.0,1227.0 C224.9,1219.5 231.1,1211.2 238.0,1203.7 C243.3,1197.9 248.6,1191.9 254.7,1187.0 C259.7,1183.0 265.4,1179.3 271.3,1177.0 C275.4,1175.4 280.6,1174.3 284.7,1175.3 C289.5,1176.5 293.8,1180.5 298.0,1183.7 C304.9,1188.9 311.9,1194.2 318.0,1200.3 C325.2,1207.6 331.0,1216.2 338.0,1223.7 C339.9,1225.7 342.4,1227.1 344.7,1228.7 C350.2,1232.6 355.6,1236.7 361.3,1240.3 C368.9,1245.1 376.5,1250.1 384.7,1253.7 C393.2,1257.3 402.4,1259.5 411.3,1262.0 C420.4,1264.5 429.5,1267.0 438.7,1268.7 C449.7,1270.7 460.9,1271.9 472.0,1273.0 C483.1,1274.1 494.2,1274.8 505.3,1275.3 C516.4,1275.9 527.6,1276.3 538.7,1276.3 C549.8,1276.3 560.9,1275.8 572.0,1275.3 C583.1,1274.9 594.2,1274.3 605.3,1273.7 C612.6,1273.2 619.8,1272.6 627.0,1272.0" fill="none" stroke="#000" stroke-width="6.5" stroke-linejoin="round" stroke-linecap="round"/>
<path d="M78.0,1407.0 C89.1,1405.9 100.4,1405.6 111.3,1403.7 C122.6,1401.7 134.1,1399.4 144.7,1395.3 C154.1,1391.7 163.0,1386.2 171.3,1380.3 C179.7,1374.5 187.7,1367.8 194.7,1360.3 C203.3,1351.1 210.0,1340.2 218.0,1330.3 C224.5,1322.4 231.0,1314.4 238.0,1307.0 C242.1,1302.7 246.3,1297.2 251.3,1295.3 C255.2,1293.9 260.7,1295.3 264.7,1297.0 C269.6,1299.2 273.9,1303.3 278.0,1307.0 C285.0,1313.3 291.3,1320.3 298.0,1327.0 C304.7,1333.7 311.0,1340.8 318.0,1347.0 C325.4,1353.5 332.9,1360.2 341.3,1365.3 C348.5,1369.7 356.8,1372.2 364.7,1375.3 C373.5,1378.9 382.5,1381.9 391.3,1385.3 C396.9,1387.5 402.4,1390.3 408.0,1392.0 C409.6,1392.5 411.7,1392.8 413.0,1392.0 C414.5,1391.1 414.8,1387.0 416.3,1387.0 C418.7,1387.0 421.6,1390.9 424.7,1392.0 C431.1,1394.3 441.1,1396.1 444.7,1397.0 C445.7,1397.3 437.2,1395.2 438.7,1395.3 C446.3,1395.8 460.9,1397.9 472.0,1398.7 C483.1,1399.4 494.2,1399.5 505.3,1399.7 C516.4,1399.8 527.6,1399.8 538.7,1399.7 C549.8,1399.5 560.9,1398.9 572.0,1398.7 C590.3,1398.3 608.7,1398.0 627.0,1397.7" fill="none" stroke="#000" stroke-width="6.5" stroke-linejoin="round" stroke-linecap="round"/>
<path d="M78.0,1538.7 C89.1,1537.6 100.3,1536.7 111.3,1535.3 C122.5,1533.9 133.7,1532.8 144.7,1530.3 C156.0,1527.8 167.2,1524.5 178.0,1520.3 C187.2,1516.7 196.5,1512.5 204.7,1507.0 C213.1,1501.4 221.1,1494.5 228.0,1487.0 C235.5,1478.9 245.1,1464.1 248.0,1460.3 C249.1,1458.8 239.1,1472.3 240.0,1471.1 C241.9,1468.6 250.1,1455.5 256.5,1449.1 C260.4,1445.2 266.2,1440.3 270.8,1440.3 C274.6,1440.3 279.1,1445.4 281.8,1449.1 C284.6,1453.1 285.8,1458.5 287.3,1463.4 C289.4,1470.6 291.1,1478.0 292.7,1485.4 C294.4,1492.7 295.8,1508.2 297.1,1507.4 C298.8,1506.3 299.8,1489.0 301.5,1479.9 C302.8,1473.3 302.7,1463.1 305.9,1460.1 C307.9,1458.3 313.7,1463.2 316.9,1465.6 C321.0,1468.7 324.3,1472.8 327.9,1476.6 C331.7,1480.5 335.0,1484.9 338.9,1488.7 C342.3,1491.9 346.0,1494.8 349.9,1497.5 C355.2,1501.1 360.6,1504.5 366.4,1507.4 C374.0,1511.1 381.9,1514.8 390.0,1517.3 C396.9,1519.3 404.2,1519.7 411.3,1521.0 C422.4,1523.0 433.5,1525.7 444.7,1527.0 C461.2,1528.9 478.0,1529.9 494.7,1530.3 C498.3,1530.4 501.7,1528.7 505.3,1528.7 C516.4,1528.5 527.6,1529.5 538.7,1529.7 C549.8,1529.8 560.9,1529.8 572.0,1529.7 C590.3,1529.5 608.7,1529.0 627.0,1528.7" fill="none" stroke="#000" stroke-width="6.5" stroke-linejoin="round" stroke-linecap="round"/>
<path d="M78.0,1665.3 C89.1,1665.0 100.3,1665.2 111.3,1664.3 C122.5,1663.5 133.8,1662.9 144.7,1660.3 C153.8,1658.2 163.3,1655.0 171.3,1650.3 C176.6,1647.2 181.5,1642.3 184.7,1637.0 C188.8,1630.1 190.7,1621.6 193.0,1613.7 C194.3,1609.3 194.4,1599.4 195.3,1600.3 C196.7,1601.7 198.6,1613.6 199.7,1620.3 C201.7,1632.5 201.7,1646.8 204.7,1657.0 C205.1,1658.5 208.8,1656.8 209.7,1655.3 C213.3,1649.0 214.8,1640.7 218.0,1633.7 C222.1,1624.6 226.4,1615.6 231.3,1607.0 C235.3,1600.1 239.6,1593.0 244.7,1587.0 C246.2,1585.2 248.8,1584.6 251.0,1583.7 C254.6,1582.3 258.3,1579.9 262.0,1579.9 C265.6,1579.9 269.8,1581.6 273.0,1583.7 C279.0,1588.0 283.9,1594.1 289.5,1599.1 C294.9,1604.0 300.1,1609.1 305.9,1613.4 C312.9,1618.6 320.3,1623.5 327.9,1627.7 C334.9,1631.6 342.3,1634.9 349.9,1637.6 C357.0,1640.1 364.4,1641.9 371.9,1643.1 C397.7,1647.1 423.8,1650.6 449.9,1653.2 C466.5,1654.9 483.1,1655.2 499.8,1655.7 C516.4,1656.3 533.0,1656.7 549.7,1656.5 C566.3,1656.4 582.9,1655.6 599.6,1654.9 C608.7,1654.5 617.9,1653.8 627.0,1653.2" fill="none" stroke="#000" stroke-width="6.5" stroke-linejoin="round" stroke-linecap="round"/>
<path d="M78.0,1788.3 C89.1,1788.3 100.7,1789.7 111.3,1788.3 C114.0,1788.0 116.2,1785.4 118.0,1783.3 C119.6,1781.5 120.2,1776.7 121.3,1776.7 C122.4,1776.7 123.4,1781.2 124.7,1783.3 C126.1,1785.7 127.3,1789.3 129.7,1790.0 C134.0,1791.3 139.7,1790.0 144.7,1789.3 C155.8,1787.8 167.1,1786.2 178.0,1783.3 C187.1,1780.9 196.2,1777.6 204.7,1773.3 C212.9,1769.2 220.0,1762.9 228.0,1758.3 C235.5,1754.0 243.2,1749.6 251.3,1746.7 C256.6,1744.8 262.4,1744.0 268.0,1744.0 C275.8,1744.0 283.6,1745.5 291.3,1746.7 C303.6,1748.6 315.8,1751.0 328.0,1753.3 C339.1,1755.5 350.2,1757.8 361.3,1760.0 C372.4,1762.2 383.5,1764.7 394.7,1766.7 C405.7,1768.6 416.9,1770.3 428.0,1771.7 C439.1,1773.1 450.2,1773.9 461.3,1775.0 C472.4,1776.1 483.5,1777.7 494.7,1778.3 C507.4,1779.1 520.2,1779.2 533.0,1779.3 C564.3,1779.7 595.7,1779.8 627.0,1780.0" fill="none" stroke="#000" stroke-width="6.5" stroke-linejoin="round" stroke-linecap="round"/>
<path d="M78.0,1270.3 C89.1,1269.8 100.2,1269.2 111.3,1268.7 C122.4,1268.1 133.6,1267.8 144.7,1267.0 C155.8,1266.2 167.0,1265.6 178.0,1263.7 C189.3,1261.7 200.8,1259.4 211.3,1255.3 C220.8,1251.7 230.2,1246.6 238.0,1240.3 C244.6,1235.0 249.9,1227.5 254.7,1220.3 C261.0,1210.9 266.2,1200.6 271.3,1190.3 C276.2,1180.6 279.7,1170.0 284.7,1160.3 C288.5,1152.8 292.6,1144.9 298.0,1138.7 C300.4,1135.8 305.1,1132.3 308.0,1133.0 C311.7,1133.9 315.4,1139.6 318.0,1143.7 C323.2,1152.0 326.9,1161.4 331.3,1170.3 C335.8,1179.2 339.4,1188.6 344.7,1197.0 C350.5,1206.4 356.9,1215.9 364.7,1223.7 C372.4,1231.4 381.9,1237.9 391.3,1243.7 C400.8,1249.5 411.2,1254.0 421.3,1258.7 C427.0,1261.2 432.7,1264.0 438.7,1265.3 C449.6,1267.8 460.8,1269.1 472.0,1270.3 C483.1,1271.6 494.2,1272.4 505.3,1273.0 C516.4,1273.6 527.6,1273.1 538.7,1273.7 C543.1,1273.9 549.2,1273.0 552.0,1275.3 C554.5,1277.4 553.9,1287.3 554.7,1287.0 C555.6,1286.7 554.3,1275.9 557.0,1273.7 C560.0,1271.2 567.0,1273.3 572.0,1273.0 C583.1,1272.4 594.2,1271.7 605.3,1271.0 C612.6,1270.6 619.8,1270.1 627.0,1269.7" fill="none" stroke="#EC1C24" stroke-width="6.2" stroke-dasharray="7.8 16" stroke-linecap="round"/>
<path d="M78.0,1398.7 C89.1,1398.1 100.2,1397.8 111.3,1397.0 C122.5,1396.2 133.6,1395.1 144.7,1393.7 C155.8,1392.3 166.9,1390.6 178.0,1388.7 C189.2,1386.7 200.8,1385.8 211.3,1382.0 C220.8,1378.6 230.9,1373.8 238.0,1367.0 C245.3,1360.0 250.0,1349.7 254.7,1340.3 C260.0,1329.7 263.4,1318.0 268.0,1307.0 C272.2,1296.9 275.8,1286.2 281.3,1277.0 C284.1,1272.4 288.9,1265.3 293.0,1265.3 C297.8,1265.3 304.3,1272.0 308.0,1277.0 C313.8,1284.8 316.7,1294.9 321.3,1303.7 C326.7,1313.8 331.7,1324.2 338.0,1333.7 C342.8,1340.9 348.3,1347.9 354.7,1353.7 C361.7,1360.1 370.0,1365.2 378.0,1370.3 C385.5,1375.2 393.8,1378.9 401.3,1383.7 C404.3,1385.6 408.4,1387.3 409.7,1390.3 C411.8,1395.6 410.9,1409.6 411.3,1408.7 C412.0,1407.4 412.6,1392.0 413.0,1383.7 C413.6,1370.3 413.6,1347.2 414.3,1343.7 C414.7,1341.6 415.4,1359.3 416.3,1367.0 C416.9,1371.5 416.6,1376.6 418.7,1380.3 C420.5,1383.8 424.2,1387.3 428.0,1388.7 C438.4,1392.3 450.2,1393.2 461.3,1395.3 C464.9,1396.0 468.4,1396.7 472.0,1397.0 C483.1,1397.8 494.2,1398.4 505.3,1398.7 C516.4,1398.9 527.6,1398.8 538.7,1398.7 C549.8,1398.5 560.9,1397.9 572.0,1397.7 C590.3,1397.3 608.7,1397.2 627.0,1397.0" fill="none" stroke="#EC1C24" stroke-width="6.2" stroke-dasharray="7.8 16" stroke-linecap="round"/>
<path d="M78.0,1524.8 C85.3,1524.4 92.7,1524.2 100.0,1523.7 C114.6,1522.7 129.3,1521.9 143.9,1520.4 C154.9,1519.3 165.9,1517.2 176.9,1516.0 C182.6,1515.4 188.5,1516.3 194.0,1514.9 C201.5,1513.0 209.6,1510.6 215.9,1506.2 C224.3,1500.3 231.9,1492.4 237.9,1484.2 C243.6,1476.4 247.4,1467.0 251.0,1457.9 C253.9,1450.5 255.5,1442.6 257.6,1434.8 C259.5,1427.5 261.3,1420.2 263.1,1412.9 C265.0,1405.2 266.0,1397.1 268.6,1389.8 C269.3,1387.6 271.6,1383.8 273.0,1384.3 C274.9,1384.9 277.5,1389.8 278.5,1393.1 C280.8,1400.8 281.6,1409.2 282.9,1417.3 C284.1,1425.3 285.2,1433.3 286.2,1441.4 C287.1,1449.5 287.4,1457.6 288.4,1465.6 C289.2,1473.3 290.6,1481.0 291.6,1488.7 C292.7,1496.4 293.5,1504.1 294.4,1511.8 C295.3,1519.3 296.0,1536.4 297.1,1534.3 C299.1,1530.5 301.9,1507.6 303.7,1494.2 C304.9,1485.8 305.2,1477.3 305.9,1468.9 C306.6,1461.6 307.3,1454.2 308.1,1446.9 C309.1,1438.8 309.4,1430.4 311.4,1422.7 C312.0,1420.5 314.3,1417.3 315.8,1417.3 C317.6,1417.3 320.3,1420.4 321.3,1422.7 C324.7,1430.0 326.1,1438.3 329.0,1445.8 C332.0,1453.6 334.8,1461.7 338.9,1468.9 C343.6,1477.1 348.7,1485.5 355.4,1492.0 C362.3,1498.7 370.5,1505.4 379.6,1508.5 C398.3,1514.8 418.9,1516.7 438.7,1520.3 C449.7,1522.4 460.8,1524.2 472.0,1525.3 C483.1,1526.4 494.2,1526.6 505.3,1527.0 C516.4,1527.4 527.6,1527.7 538.7,1527.7 C549.8,1527.7 560.9,1527.3 572.0,1527.0 C590.3,1526.5 608.7,1525.9 627.0,1525.3" fill="none" stroke="#EC1C24" stroke-width="6.2" stroke-dasharray="7.8 16" stroke-linecap="round"/>
<path d="M78.0,1650.1 C85.3,1649.7 92.7,1649.4 100.0,1649.0 C107.3,1648.6 114.7,1648.6 122.0,1647.9 C129.3,1647.2 136.6,1645.9 143.9,1644.6 C152.7,1643.0 161.8,1641.7 170.3,1639.1 C175.0,1637.7 180.3,1635.9 183.5,1632.5 C187.8,1627.9 190.2,1621.0 193.0,1615.0 C194.2,1612.5 195.1,1609.8 195.3,1607.0 C196.5,1591.4 196.6,1575.7 197.0,1560.0 C197.6,1537.3 197.9,1492.0 198.4,1492.0 C198.9,1492.0 199.3,1537.3 200.0,1560.0 C200.6,1580.0 201.4,1600.0 202.5,1620.0 C203.2,1633.0 202.3,1650.7 205.5,1658.9 C206.5,1661.4 212.3,1654.7 215.0,1652.0 C219.6,1647.4 224.0,1642.3 227.5,1636.9 C232.5,1629.2 236.4,1620.8 240.6,1612.7 C244.2,1605.7 247.4,1598.5 251.0,1591.4 C255.7,1582.2 259.3,1572.0 265.3,1564.0 C267.7,1560.6 272.5,1557.5 276.3,1557.4 C279.8,1557.2 284.5,1560.0 287.3,1562.9 C293.6,1569.5 297.8,1578.6 303.7,1585.9 C309.9,1593.6 316.2,1601.4 323.5,1607.9 C330.9,1614.5 339.0,1620.8 347.7,1625.5 C355.1,1629.6 363.5,1632.6 371.9,1634.3 C397.6,1639.6 423.8,1643.0 449.9,1646.6 C466.4,1648.8 483.1,1650.7 499.8,1651.6 C516.4,1652.4 533.0,1651.8 549.7,1651.6 C566.3,1651.3 582.9,1650.6 599.6,1649.9 C608.7,1649.5 617.9,1648.8 627.0,1648.2" fill="none" stroke="#EC1C24" stroke-width="6.2" stroke-dasharray="7.8 16" stroke-linecap="round"/>
<path d="M78.0,1773.3 C84.7,1772.8 91.5,1772.9 98.0,1771.7 C103.7,1770.6 110.3,1769.7 114.7,1766.7 C117.5,1764.7 119.4,1760.3 119.7,1756.7 C121.8,1728.1 121.3,1698.9 122.0,1670.0 C122.5,1650.0 122.7,1610.0 123.0,1610.0 C123.3,1610.0 123.5,1650.0 124.0,1670.0 C124.7,1698.9 125.3,1727.8 126.3,1756.7 C126.6,1765.6 125.9,1777.8 128.0,1783.3 C128.7,1785.1 132.2,1779.5 134.7,1778.3 C143.3,1774.5 152.3,1771.3 161.3,1768.3 C172.3,1764.7 183.9,1762.5 194.7,1758.3 C202.8,1755.2 210.8,1751.4 218.0,1746.7 C225.2,1741.9 230.9,1735.0 238.0,1730.0 C244.3,1725.6 251.0,1720.8 258.0,1718.3 C261.0,1717.3 264.9,1718.2 268.0,1719.3 C276.0,1722.1 283.5,1726.6 291.3,1730.0 C303.5,1735.2 315.6,1740.6 328.0,1745.0 C338.9,1748.9 350.2,1751.9 361.3,1755.0 C372.4,1758.0 383.5,1760.8 394.7,1763.3 C405.7,1765.8 416.8,1768.2 428.0,1770.0 C439.0,1771.8 450.2,1773.0 461.3,1774.0 C472.4,1775.0 483.5,1775.6 494.7,1776.0 C507.4,1776.5 520.2,1776.7 533.0,1776.7 C564.3,1776.7 595.7,1776.2 627.0,1776.0" fill="none" stroke="#EC1C24" stroke-width="6.2" stroke-dasharray="7.8 16" stroke-linecap="round"/>
</g>
<rect x="78.0" y="1046.7" width="548.7" height="807.0" fill="none" stroke="#000" stroke-width="3.4" stroke-linejoin="round"/>
<path d="M127.88,1046.7 v16 M127.88,1853.7 v-16 M177.76,1046.7 v8.5 M177.76,1853.7 v-8.5 M227.65,1046.7 v16 M227.65,1853.7 v-16 M277.53,1046.7 v8.5 M277.53,1853.7 v-8.5 M327.41,1046.7 v16 M327.41,1853.7 v-16 M377.29,1046.7 v8.5 M377.29,1853.7 v-8.5 M427.17,1046.7 v16 M427.17,1853.7 v-16 M477.05,1046.7 v8.5 M477.05,1853.7 v-8.5 M526.94,1046.7 v16 M526.94,1853.7 v-16 M576.82,1046.7 v8.5 M576.82,1853.7 v-8.5 M78.0,1791.62 h16 M626.7,1791.62 h-16 M78.0,1729.55 h8.5 M626.7,1729.55 h-8.5 M78.0,1667.47 h16 M626.7,1667.47 h-16 M78.0,1605.39 h8.5 M626.7,1605.39 h-8.5 M78.0,1543.32 h16 M626.7,1543.32 h-16 M78.0,1481.24 h8.5 M626.7,1481.24 h-8.5 M78.0,1419.16 h16 M626.7,1419.16 h-16 M78.0,1357.08 h8.5 M626.7,1357.08 h-8.5 M78.0,1295.01 h16 M626.7,1295.01 h-16 M78.0,1232.93 h8.5 M626.7,1232.93 h-8.5 M78.0,1170.85 h16 M626.7,1170.85 h-16 M78.0,1108.78 h8.5 M626.7,1108.78 h-8.5" stroke="#000" stroke-width="3.2" stroke-linecap="round" fill="none"/>
<text x="126.9" y="1885.5" text-anchor="middle" font-size="29">1.6</text>
<text x="226.6" y="1885.5" text-anchor="middle" font-size="29">1.8</text>
<text x="326.4" y="1885.5" text-anchor="middle" font-size="29">2.0</text>
<text x="426.2" y="1885.5" text-anchor="middle" font-size="29">2.2</text>
<text x="525.9" y="1885.5" text-anchor="middle" font-size="29">2.4</text>
<text x="625.7" y="1885.5" text-anchor="middle" font-size="29">2.6</text>
<text x="349.7" y="1931.7" text-anchor="middle" font-size="29">Photon energy (eV)</text>
<text x="67.2" y="1802.1" text-anchor="end" font-size="29">0</text>
<text x="67.2" y="1678.0" text-anchor="end" font-size="29">2</text>
<text x="67.2" y="1553.8" text-anchor="end" font-size="29">4</text>
<text x="67.2" y="1429.7" text-anchor="end" font-size="29">6</text>
<text x="67.2" y="1305.5" text-anchor="end" font-size="29">8</text>
<text x="67.2" y="1181.4" text-anchor="end" font-size="29">10</text>
<text x="67.2" y="1057.2" text-anchor="end" font-size="29">12</text>
<text transform="translate(26,1450.7) rotate(-90)" text-anchor="middle" font-size="29" textLength="126.5" lengthAdjust="spacingAndGlyphs">Extinction</text>
<clipPath id="clipD"><rect x="794.0" y="1046.7" width="548.7" height="807.0"/></clipPath>
<g clip-path="url(#clipD)">
<path d="M794.0,1282.4 C801.3,1279.5 808.8,1276.8 816.0,1273.6 C823.5,1270.2 830.7,1266.3 838.0,1262.6 C845.3,1258.9 852.6,1255.2 859.9,1251.6 C867.2,1247.9 874.7,1244.6 881.9,1240.7 C889.4,1236.6 896.6,1231.9 903.9,1227.5 C911.2,1223.1 918.7,1219.0 925.9,1214.3 C933.4,1209.4 940.2,1203.5 947.8,1198.9 C953.4,1195.5 959.4,1192.6 965.4,1190.1 C968.9,1188.6 972.7,1186.8 976.4,1186.8 C981.5,1186.8 987.1,1188.1 991.8,1190.1 C996.6,1192.1 1000.9,1195.6 1005.0,1198.9 C1011.1,1203.7 1016.7,1209.2 1022.6,1214.3 C1028.4,1219.4 1034.1,1224.8 1040.1,1229.7 C1045.8,1234.3 1051.4,1239.3 1057.7,1242.9 C1064.0,1246.4 1071.1,1248.6 1078.0,1251.0 C1085.2,1253.6 1092.6,1255.9 1100.0,1258.0 C1109.1,1260.6 1118.1,1263.4 1127.3,1265.3 C1136.3,1267.3 1145.5,1268.5 1154.7,1269.7 C1165.7,1271.1 1176.9,1272.1 1188.0,1273.0 C1199.1,1273.9 1210.2,1274.8 1221.3,1275.3 C1232.4,1275.9 1243.6,1276.1 1254.7,1276.3 C1265.8,1276.6 1276.9,1277.0 1288.0,1277.0 C1306.3,1277.0 1324.7,1276.6 1343.0,1276.3" fill="none" stroke="#000" stroke-width="6.5" stroke-linejoin="round" stroke-linecap="round"/>
<path d="M794.0,1409.9 C801.3,1407.7 808.8,1405.8 816.0,1403.3 C823.4,1400.7 830.8,1397.7 838.0,1394.5 C845.4,1391.1 852.8,1387.4 859.9,1383.5 C867.4,1379.4 874.6,1374.7 881.9,1370.3 C889.2,1365.9 896.7,1361.7 903.9,1357.1 C911.4,1352.2 918.6,1346.9 925.9,1341.8 C933.2,1336.7 940.2,1331.0 947.8,1326.4 C953.4,1323.0 959.3,1319.1 965.4,1317.6 C969.5,1316.6 974.5,1317.2 978.6,1318.7 C984.8,1320.9 990.8,1324.7 996.2,1328.6 C1002.5,1333.1 1007.9,1338.9 1013.8,1344.0 C1019.7,1349.1 1025.3,1354.5 1031.4,1359.3 C1038.4,1364.8 1045.5,1370.4 1053.3,1374.7 C1060.2,1378.5 1067.9,1380.9 1075.3,1383.5 C1081.4,1385.7 1087.6,1387.9 1094.0,1389.0 C1114.1,1392.4 1134.4,1394.6 1154.7,1397.0 C1165.8,1398.3 1176.9,1399.2 1188.0,1400.3 C1199.1,1401.4 1210.2,1402.8 1221.3,1403.7 C1232.4,1404.5 1243.5,1405.1 1254.7,1405.3 C1265.8,1405.6 1276.9,1405.5 1288.0,1405.3 C1306.3,1405.1 1324.7,1404.7 1343.0,1404.3" fill="none" stroke="#000" stroke-width="6.5" stroke-linejoin="round" stroke-linecap="round"/>
<path d="M794.0,1537.4 C808.7,1533.7 823.4,1530.4 838.0,1526.4 C852.7,1522.3 867.3,1517.8 881.9,1513.2 C893.0,1509.7 904.3,1506.8 914.9,1502.2 C926.3,1497.3 936.8,1490.3 947.8,1484.6 C955.1,1480.8 962.2,1476.6 969.8,1473.6 C976.9,1470.8 984.5,1467.7 991.8,1467.0 C995.5,1466.6 1000.1,1468.0 1002.8,1470.3 C1006.0,1473.1 1007.3,1478.3 1009.4,1482.4 C1010.9,1485.3 1012.6,1491.8 1013.8,1491.2 C1015.5,1490.3 1015.4,1479.1 1018.2,1478.0 C1021.2,1476.9 1027.2,1482.0 1031.4,1484.6 C1038.9,1489.3 1045.5,1495.7 1053.3,1500.0 C1061.6,1504.5 1070.7,1507.8 1079.7,1511.0 C1084.3,1512.6 1089.4,1512.7 1094.0,1514.3 C1102.8,1517.3 1111.2,1521.7 1120.0,1524.6 C1122.8,1525.5 1125.9,1525.3 1128.8,1525.5 C1143.6,1526.7 1158.4,1528.3 1173.2,1528.9 C1188.0,1529.4 1202.8,1528.7 1217.6,1528.9 C1232.4,1529.0 1247.2,1529.6 1262.0,1530.0 C1276.8,1530.3 1291.6,1530.9 1306.4,1531.1 C1318.6,1531.2 1330.8,1531.1 1343.0,1531.1" fill="none" stroke="#000" stroke-width="6.5" stroke-linejoin="round" stroke-linecap="round"/>
<path d="M794.0,1660.0 C805.1,1657.2 816.6,1655.4 827.3,1651.7 C838.8,1647.7 849.7,1641.9 860.7,1636.7 C869.7,1632.4 879.3,1628.9 887.3,1623.3 C893.7,1618.9 899.0,1612.7 904.0,1606.7 C906.8,1603.2 908.9,1594.5 910.7,1595.0 C912.8,1595.6 913.9,1605.0 915.7,1610.0 C917.2,1614.5 919.2,1624.6 920.7,1623.3 C923.1,1621.2 923.7,1607.0 927.3,1600.0 C930.4,1594.2 935.5,1588.9 940.7,1585.0 C944.4,1582.2 949.6,1580.0 954.0,1580.0 C958.4,1580.0 963.7,1582.1 967.3,1585.0 C976.0,1592.0 983.0,1601.5 990.9,1609.7 C996.0,1614.9 1000.7,1620.6 1006.4,1625.1 C1010.4,1628.3 1015.5,1630.1 1020.0,1632.7 C1023.5,1634.7 1026.6,1637.3 1030.3,1638.9 C1036.9,1641.8 1043.8,1645.0 1050.9,1646.1 C1057.6,1647.1 1064.6,1645.2 1071.5,1645.1 C1078.4,1644.9 1085.2,1644.8 1092.1,1645.1 C1101.4,1645.5 1110.7,1646.4 1120.0,1647.1 C1126.6,1647.6 1133.3,1648.2 1139.9,1648.7 C1154.7,1649.9 1169.5,1651.1 1184.3,1652.1 C1199.1,1653.0 1213.9,1653.9 1228.7,1654.3 C1243.5,1654.6 1258.3,1654.5 1273.1,1654.3 C1287.9,1654.1 1302.7,1653.4 1317.5,1653.2 C1326.0,1653.0 1334.5,1653.2 1343.0,1653.2" fill="none" stroke="#000" stroke-width="6.5" stroke-linejoin="round" stroke-linecap="round"/>
<path d="M794.0,1788.3 C800.7,1787.8 807.6,1788.3 814.0,1786.7 C818.7,1785.5 823.6,1783.1 827.3,1780.0 C830.3,1777.5 831.8,1773.3 834.0,1770.0 C835.1,1768.3 836.5,1764.4 837.3,1765.0 C838.7,1766.1 839.3,1771.8 840.7,1775.0 C841.5,1776.8 842.4,1780.4 844.0,1780.0 C849.1,1778.7 855.1,1773.4 860.7,1770.0 C869.6,1764.5 878.5,1758.9 887.3,1753.3 C895.1,1748.4 902.9,1743.4 910.7,1738.3 C917.4,1733.9 923.6,1726.6 930.7,1725.0 C935.8,1723.8 942.2,1727.4 947.3,1730.0 C954.4,1733.5 960.5,1739.1 967.3,1743.3 C973.9,1747.4 980.2,1752.3 987.3,1755.0 C994.7,1757.8 1002.8,1758.6 1010.7,1760.0 C1021.7,1762.0 1032.9,1763.3 1044.0,1765.0 C1055.1,1766.7 1066.2,1768.6 1077.3,1770.0 C1088.4,1771.4 1099.6,1772.2 1110.7,1773.3 C1121.8,1774.4 1132.9,1775.8 1144.0,1776.7 C1155.1,1777.5 1166.2,1777.8 1177.3,1778.3 C1188.4,1778.9 1199.6,1779.5 1210.7,1780.0 C1223.4,1780.6 1236.2,1781.5 1249.0,1781.7 C1280.3,1782.1 1311.7,1781.9 1343.0,1782.0" fill="none" stroke="#000" stroke-width="6.5" stroke-linejoin="round" stroke-linecap="round"/>
<path d="M794.0,1287.9 C801.3,1288.3 808.7,1289.2 816.0,1289.0 C823.3,1288.8 830.7,1287.9 838.0,1286.8 C845.4,1285.7 852.7,1284.2 859.9,1282.4 C868.8,1280.2 877.8,1278.0 886.3,1274.7 C893.9,1271.8 901.3,1267.9 908.3,1263.7 C916.7,1258.7 924.9,1253.3 932.5,1247.3 C940.2,1241.2 948.1,1234.9 954.4,1227.5 C960.5,1220.3 965.2,1211.7 969.8,1203.3 C974.0,1195.5 977.1,1187.2 980.8,1179.1 C984.5,1171.0 988.1,1163.0 991.8,1154.9 C995.5,1146.9 998.5,1138.5 1002.8,1130.8 C1005.9,1125.3 1009.4,1119.5 1013.8,1115.4 C1015.7,1113.7 1019.4,1112.3 1021.5,1113.2 C1024.5,1114.5 1027.3,1118.7 1029.2,1122.0 C1032.8,1128.2 1035.3,1135.1 1038.0,1141.8 C1041.2,1149.7 1043.6,1158.0 1046.8,1165.9 C1050.1,1174.1 1053.6,1182.3 1057.7,1190.1 C1061.6,1197.7 1066.0,1205.1 1070.9,1212.1 C1076.3,1219.8 1082.2,1227.3 1088.5,1234.1 C1089.9,1235.6 1092.2,1236.0 1094.0,1237.0 C1101.8,1241.4 1109.2,1246.6 1117.3,1250.3 C1125.9,1254.3 1135.1,1257.1 1144.0,1260.3 C1147.5,1261.6 1151.0,1262.8 1154.7,1263.7 C1165.7,1266.3 1176.8,1269.3 1188.0,1271.0 C1199.0,1272.6 1210.2,1272.9 1221.3,1273.7 C1232.4,1274.4 1243.6,1274.5 1254.7,1275.3 C1259.1,1275.7 1265.5,1274.4 1268.0,1277.0 C1270.8,1280.0 1269.8,1292.1 1270.7,1292.0 C1271.5,1291.9 1270.0,1278.9 1273.0,1276.3 C1275.8,1273.9 1283.0,1277.2 1288.0,1277.0 C1306.3,1276.1 1324.7,1274.3 1343.0,1273.0" fill="none" stroke="#EC1C24" stroke-width="6.2" stroke-dasharray="7.8 16" stroke-linecap="round"/>
<path d="M794.0,1412.0 C805.1,1412.0 816.2,1412.6 827.3,1412.0 C838.5,1411.4 849.7,1410.6 860.7,1408.7 C871.9,1406.7 883.1,1403.8 894.0,1400.3 C902.0,1397.7 910.1,1394.5 917.3,1390.3 C924.5,1386.2 931.2,1380.9 937.3,1375.3 C944.5,1368.7 951.4,1361.5 957.3,1353.7 C963.6,1345.4 968.9,1336.1 974.0,1327.0 C978.9,1318.3 983.3,1309.4 987.3,1300.3 C992.2,1289.4 995.6,1277.8 1000.7,1267.0 C1003.4,1261.1 1006.6,1254.8 1010.7,1250.3 C1012.1,1248.7 1016.0,1247.3 1017.3,1248.7 C1021.5,1252.8 1024.5,1260.7 1027.3,1267.0 C1032.3,1277.9 1035.8,1289.4 1040.7,1300.3 C1045.8,1311.7 1050.9,1323.1 1057.3,1333.7 C1063.1,1343.1 1069.8,1352.2 1077.3,1360.3 C1084.3,1367.8 1092.3,1374.5 1100.7,1380.3 C1106.8,1384.5 1114.1,1386.8 1120.7,1390.3 C1122.3,1391.2 1124.8,1392.0 1125.3,1393.7 C1126.7,1398.1 1126.1,1410.2 1126.3,1408.7 C1126.8,1405.8 1127.0,1389.8 1127.3,1380.3 C1127.7,1368.1 1128.0,1343.7 1128.3,1343.7 C1128.7,1343.7 1128.8,1368.1 1129.3,1380.3 C1129.5,1384.8 1128.2,1391.2 1130.7,1393.7 C1133.1,1396.2 1139.5,1395.0 1144.0,1395.3 C1147.5,1395.6 1151.1,1394.9 1154.7,1395.3 C1165.8,1396.6 1176.8,1399.2 1188.0,1400.3 C1199.1,1401.4 1210.2,1401.4 1221.3,1402.0 C1232.4,1402.6 1243.5,1403.3 1254.7,1403.7 C1265.8,1404.1 1276.9,1404.5 1288.0,1404.3 C1306.3,1404.0 1324.7,1402.8 1343.0,1402.0" fill="none" stroke="#EC1C24" stroke-width="6.2" stroke-dasharray="7.8 16" stroke-linecap="round"/>
<path d="M794.0,1537.0 C805.1,1537.0 816.2,1537.6 827.3,1537.0 C838.5,1536.4 849.6,1535.3 860.7,1533.7 C871.9,1532.0 883.3,1530.4 894.0,1527.0 C901.1,1524.8 907.8,1521.1 914.0,1517.0 C921.2,1512.2 928.2,1506.7 934.0,1500.3 C941.5,1492.2 946.8,1481.9 954.0,1473.7 C955.5,1472.0 959.0,1472.4 960.0,1470.6 C963.0,1465.2 964.0,1458.1 966.2,1452.0 C969.1,1443.7 972.5,1435.6 975.5,1427.3 C978.2,1419.6 980.7,1411.8 983.2,1404.1 C985.8,1395.9 987.5,1387.2 990.9,1379.4 C992.9,1374.8 997.7,1365.3 999.4,1367.0 C1002.4,1370.0 1003.5,1384.4 1004.8,1393.3 C1006.1,1402.0 1006.5,1410.8 1007.1,1419.6 C1007.7,1427.3 1008.2,1435.0 1008.7,1442.7 C1009.2,1450.5 1009.7,1458.2 1010.2,1465.9 C1010.7,1473.6 1011.4,1481.4 1011.8,1489.1 C1012.2,1496.8 1012.5,1504.6 1012.6,1512.3 C1012.6,1521.6 1011.9,1541.2 1012.1,1540.1 C1012.4,1538.7 1013.6,1516.4 1014.1,1504.6 C1014.7,1488.1 1014.9,1471.6 1015.3,1455.1 C1015.5,1446.9 1015.6,1438.6 1016.0,1430.4 C1016.3,1422.1 1016.3,1413.8 1017.2,1405.6 C1017.8,1399.9 1018.8,1387.8 1020.3,1388.6 C1022.4,1389.8 1025.5,1404.1 1028.0,1411.8 C1030.7,1420.0 1032.9,1428.4 1035.7,1436.6 C1038.6,1444.9 1041.5,1453.2 1045.0,1461.3 C1048.2,1468.7 1051.8,1476.2 1055.8,1482.9 C1056.2,1483.6 1057.5,1482.9 1058.1,1483.4 C1065.5,1490.2 1071.7,1499.0 1079.7,1505.0 C1086.8,1510.3 1095.1,1514.3 1103.4,1517.4 C1111.5,1520.4 1120.2,1522.2 1128.8,1523.3 C1143.5,1525.3 1158.4,1525.9 1173.2,1526.6 C1188.0,1527.4 1202.8,1527.4 1217.6,1527.7 C1232.4,1528.1 1247.2,1528.9 1262.0,1528.9 C1276.8,1528.9 1291.6,1528.2 1306.4,1527.7 C1318.6,1527.4 1330.8,1527.0 1343.0,1526.6" fill="none" stroke="#EC1C24" stroke-width="6.2" stroke-dasharray="7.8 16" stroke-linecap="round"/>
<path d="M794.0,1661.7 C805.1,1661.7 816.2,1662.2 827.3,1661.7 C838.5,1661.1 849.7,1660.2 860.7,1658.3 C869.7,1656.8 879.2,1655.4 887.3,1651.7 C892.6,1649.3 896.8,1644.4 900.7,1640.0 C904.1,1636.1 907.9,1631.7 909.0,1626.7 C912.2,1611.8 912.6,1595.8 913.3,1580.3 C914.4,1558.1 914.2,1535.9 914.7,1513.7 C915.0,1497.0 915.4,1459.5 915.7,1463.7 C916.1,1470.6 916.3,1519.2 916.7,1547.0 C917.1,1587.0 915.9,1637.2 918.0,1667.0 C918.3,1671.5 921.6,1655.5 924.0,1650.0 C927.0,1643.2 930.7,1636.7 934.0,1630.0 C938.4,1621.1 943.6,1612.5 947.3,1603.3 C955.4,1583.6 961.5,1563.0 969.3,1543.2 C972.4,1535.3 975.0,1523.2 980.1,1520.0 C983.3,1518.0 991.0,1523.7 994.0,1527.7 C998.7,1534.0 1000.2,1543.2 1003.3,1550.9 C1006.4,1558.7 1009.4,1566.4 1012.6,1574.1 C1015.6,1581.4 1017.8,1589.1 1021.8,1595.7 C1027.1,1604.5 1033.1,1613.5 1040.6,1620.4 C1047.3,1626.5 1055.9,1631.3 1064.3,1634.8 C1071.6,1637.8 1080.0,1638.6 1088.0,1639.9 C1096.1,1641.3 1104.4,1642.1 1112.7,1643.0 C1132.8,1645.4 1153.0,1648.1 1173.2,1649.8 C1187.9,1651.1 1202.8,1651.5 1217.6,1652.1 C1232.4,1652.6 1247.2,1653.2 1262.0,1653.2 C1276.8,1653.2 1291.6,1652.5 1306.4,1652.1 C1318.6,1651.7 1330.8,1651.3 1343.0,1650.9" fill="none" stroke="#EC1C24" stroke-width="6.2" stroke-dasharray="7.8 16" stroke-linecap="round"/>
<path d="M794.0,1786.7 C800.7,1786.1 807.3,1785.7 814.0,1785.0 C818.5,1784.6 823.3,1784.9 827.3,1783.3 C830.5,1782.1 835.4,1780.1 835.7,1776.7 C838.6,1742.3 836.6,1705.6 837.0,1670.0 C837.3,1643.3 837.7,1590.0 838.0,1590.0 C838.3,1590.0 838.6,1643.3 839.0,1670.0 C839.5,1703.3 839.3,1736.8 840.7,1770.0 C840.9,1776.2 840.5,1785.4 844.0,1788.3 C847.2,1791.0 855.4,1788.2 860.7,1786.7 C868.7,1784.3 876.6,1780.6 884.0,1776.7 C893.2,1771.7 902.8,1766.8 910.7,1760.0 C919.5,1752.3 927.0,1742.8 934.0,1733.3 C939.3,1726.1 942.5,1717.5 947.3,1710.0 C950.3,1705.3 953.2,1698.7 957.3,1696.7 C959.9,1695.4 964.5,1698.0 967.3,1700.0 C972.3,1703.6 976.0,1709.1 980.7,1713.3 C987.1,1719.1 993.3,1725.5 1000.7,1730.0 C1008.9,1735.0 1018.2,1738.6 1027.3,1741.7 C1038.2,1745.3 1049.6,1747.0 1060.7,1750.0 C1071.8,1753.1 1082.8,1757.2 1094.0,1760.0 C1105.0,1762.7 1116.2,1764.7 1127.3,1766.7 C1138.4,1768.6 1149.5,1770.3 1160.7,1771.7 C1171.7,1773.1 1182.9,1774.2 1194.0,1775.0 C1212.3,1776.4 1230.6,1778.0 1249.0,1778.3 C1280.3,1779.0 1311.7,1778.1 1343.0,1778.0" fill="none" stroke="#EC1C24" stroke-width="6.2" stroke-dasharray="7.8 16" stroke-linecap="round"/>
</g>
<rect x="794.0" y="1046.7" width="548.7" height="807.0" fill="none" stroke="#000" stroke-width="3.4" stroke-linejoin="round"/>
<path d="M843.88,1046.7 v16 M843.88,1853.7 v-16 M893.76,1046.7 v8.5 M893.76,1853.7 v-8.5 M943.65,1046.7 v16 M943.65,1853.7 v-16 M993.53,1046.7 v8.5 M993.53,1853.7 v-8.5 M1043.41,1046.7 v16 M1043.41,1853.7 v-16 M1093.29,1046.7 v8.5 M1093.29,1853.7 v-8.5 M1143.17,1046.7 v16 M1143.17,1853.7 v-16 M1193.05,1046.7 v8.5 M1193.05,1853.7 v-8.5 M1242.94,1046.7 v16 M1242.94,1853.7 v-16 M1292.82,1046.7 v8.5 M1292.82,1853.7 v-8.5 M794.0,1791.62 h16 M1342.7,1791.62 h-16 M794.0,1729.55 h8.5 M1342.7,1729.55 h-8.5 M794.0,1667.47 h16 M1342.7,1667.47 h-16 M794.0,1605.39 h8.5 M1342.7,1605.39 h-8.5 M794.0,1543.32 h16 M1342.7,1543.32 h-16 M794.0,1481.24 h8.5 M1342.7,1481.24 h-8.5 M794.0,1419.16 h16 M1342.7,1419.16 h-16 M794.0,1357.08 h8.5 M1342.7,1357.08 h-8.5 M794.0,1295.01 h16 M1342.7,1295.01 h-16 M794.0,1232.93 h8.5 M1342.7,1232.93 h-8.5 M794.0,1170.85 h16 M1342.7,1170.85 h-16 M794.0,1108.78 h8.5 M1342.7,1108.78 h-8.5" stroke="#000" stroke-width="3.2" stroke-linecap="round" fill="none"/>
<text x="842.9" y="1889.3" text-anchor="middle" font-size="29">1.6</text>
<text x="942.6" y="1889.3" text-anchor="middle" font-size="29">1.8</text>
<text x="1042.4" y="1889.3" text-anchor="middle" font-size="29">2.0</text>
<text x="1142.2" y="1889.3" text-anchor="middle" font-size="29">2.2</text>
<text x="1241.9" y="1889.3" text-anchor="middle" font-size="29">2.4</text>
<text x="1341.7" y="1889.3" text-anchor="middle" font-size="29">2.6</text>
<text x="1074.0" y="1934.7" text-anchor="middle" font-size="29">Photon energy (eV)</text>
<text x="714" y="1264.7" text-anchor="middle" font-size="29">300 nm</text>
<text x="714" y="1791.7" text-anchor="middle" font-size="29">500 nm</text>
<path d="M714,1280.0 V1733.7" stroke="#000" stroke-width="4"/>
<path d="M707.2,1730.7 L720.8,1730.7 L714,1753.7 Z" fill="#000"/>
<text transform="translate(687,1528.3) rotate(-90)" text-anchor="middle" font-size="29" textLength="181.5" lengthAdjust="spacingAndGlyphs">Grating period</text>
<text x="352.5" y="36" text-anchor="middle" font-size="29">Spacer layer <tspan font-style="italic">t</tspan><tspan font-size="20" dy="7">sp</tspan><tspan dy="-7"> = 0 nm</tspan></text>
<text x="1068" y="28" text-anchor="middle" font-size="29">Spacer layer <tspan font-style="italic">t</tspan><tspan font-size="20" dy="7">sp</tspan><tspan dy="-7"> = 100 nm</tspan></text>
<text x="352" y="1017.5" text-anchor="middle" font-size="29">Spacer layer <tspan font-style="italic">t</tspan><tspan font-size="20" dy="7">sp</tspan><tspan dy="-7"> = 200 nm</tspan></text>
<text x="1068" y="1017.5" text-anchor="middle" font-size="29">Spacer layer <tspan font-style="italic">t</tspan><tspan font-size="20" dy="7">sp</tspan><tspan dy="-7"> = 300 nm</tspan></text>
<text transform="translate(1.5,37) scale(0.93,1)" font-size="47" font-weight="bold">A</text>
<text transform="translate(799,37) scale(0.93,1)" font-size="47" font-weight="bold">B</text>
<text transform="translate(1.5,1019) scale(0.93,1)" font-size="47" font-weight="bold">C</text>
<text transform="translate(799,1017) scale(0.93,1)" font-size="47" font-weight="bold">D</text>
<path d="M225,115 H334.5" stroke="#000" stroke-width="6" stroke-linecap="round"/>
<path d="M225,168.5 H330" stroke="#EC1C24" stroke-width="6" stroke-linecap="round" stroke-dasharray="8 15.8"/>
<text x="351" y="123.6" font-size="29">Measurement</text>
<text x="351" y="176.7" font-size="29">S-matrix</text>
</svg></body></html>
